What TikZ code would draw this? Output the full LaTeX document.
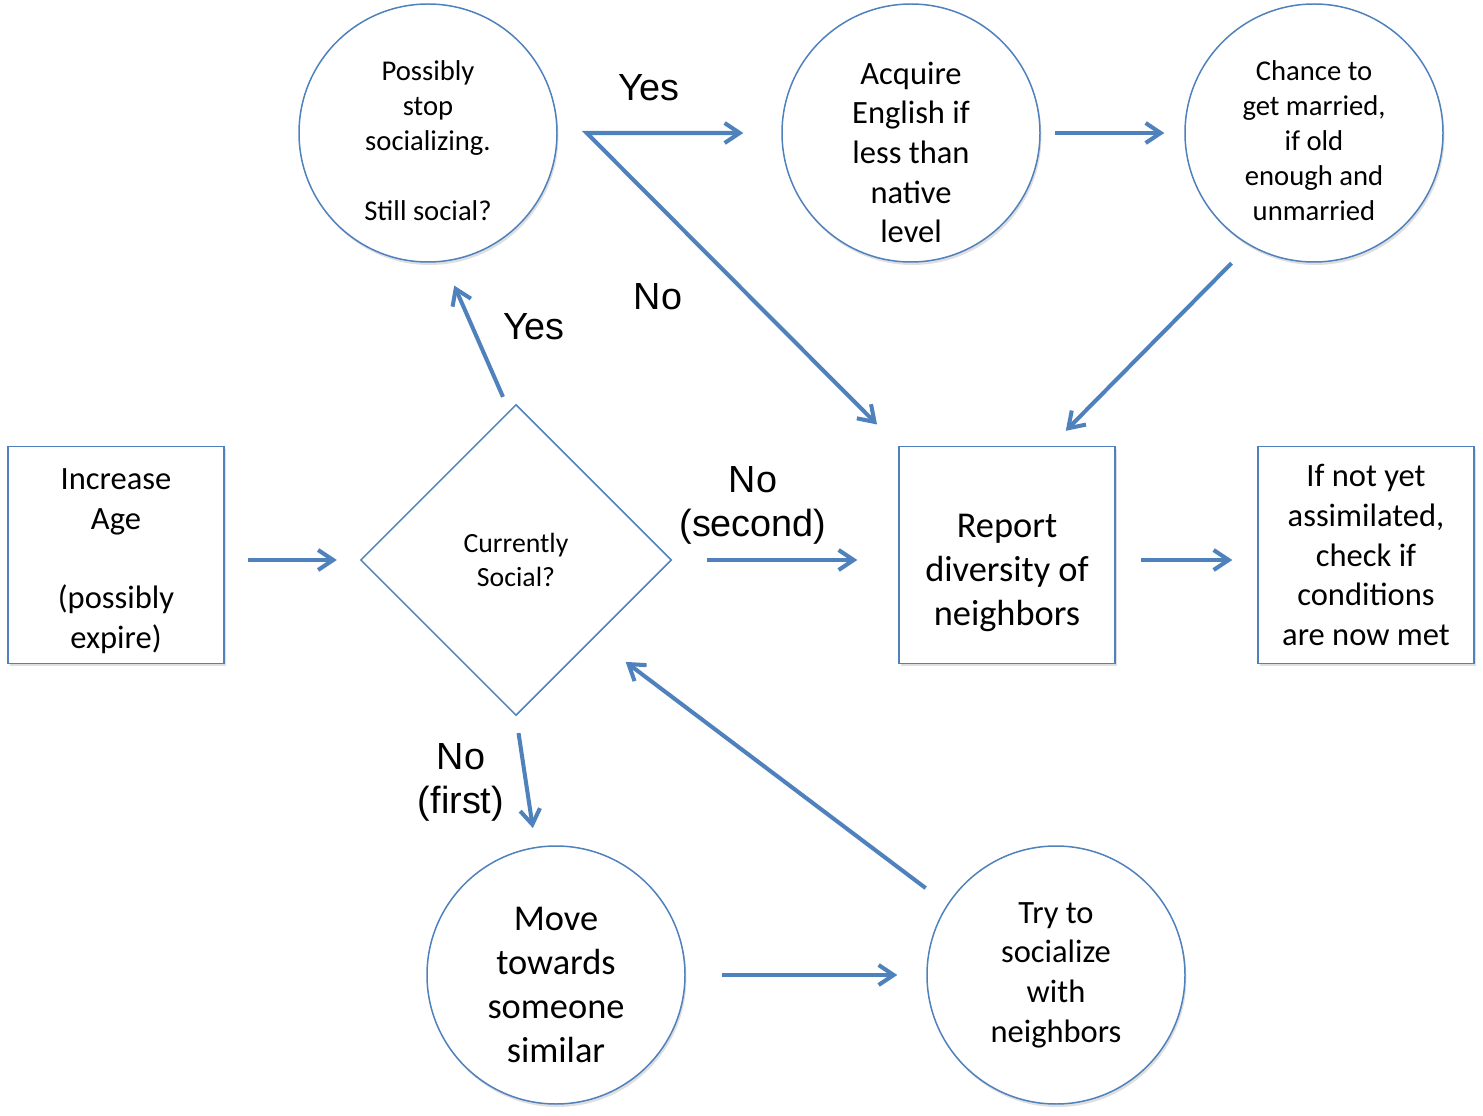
\documentclass[tikz,border=0pt]{standalone}
\usepackage{fontspec}
\setmainfont{Carlito}
\newfontfamily\labelfont{Liberation Sans}
\usetikzlibrary{arrows.meta,shapes.geometric,shadows}
\definecolor{flowblue}{RGB}{79,129,189}

\begin{document}
\begin{tikzpicture}[>={Straight Barb[length=0.3cm,width=0.4cm]},
  every node/.style={align=center},
  blob/.style={shape=circle,draw=flowblue,line width=0.85pt,fill=white,inner sep=0pt,
    minimum size=5.16cm,drop shadow={opacity=0.25,shadow xshift=0.03cm,shadow yshift=-0.06cm}},
  box/.style={shape=rectangle,draw=flowblue,line width=0.85pt,fill=white,inner sep=0pt,
    minimum width=4.32cm,minimum height=4.34cm,drop shadow={opacity=0.25,shadow xshift=0.03cm,shadow yshift=-0.06cm}},
  flow/.style={->,draw=flowblue,line width=2.3pt},
  answer/.style={font=\labelfont\fontsize{21.5}{25}\selectfont}]

  \useasboundingbox (0,0) rectangle (29.66,-22.32);

  \node (stop) at (8.56,-2.66) [blob,text height=100pt,font=\fontsize{16.3}{20}\selectfont]
        {Possibly\\stop\\socializing.\\[20pt]Still social?};
  \node (acq) at (18.22,-2.66) [blob,text height=124.8pt,font=\fontsize{18.5}{22.5}\selectfont]
        {Acquire\\English if\\less than\\native\\level};
  \node (marry) at (26.28,-2.66) [blob,text height=100pt,font=\fontsize{16.3}{20}\selectfont]
        {Chance to\\get married,\\if old\\enough and\\unmarried};

  \node (age) at (2.32,-11.1) [box,text height=109pt,font=\fontsize{18.5}{22.6}\selectfont]
        {Increase\\Age\\[22.6pt](possibly\\expire)};
  \node (soc) at (10.32,-11.2) [shape=diamond,draw=flowblue,line width=0.85pt,fill=white,inner sep=0pt,
        minimum width=6.22cm,minimum height=6.22cm,font=\fontsize{15.8}{19.3}\selectfont]
        {Currently\\Social?};
  \node (report) at (20.14,-11.1) [box,text height=84.3pt,font=\fontsize{20.7}{25.3}\selectfont]
        {Report\\diversity of\\neighbors};
  \node (assim) at (27.32,-11.1) [box,font=\fontsize{18.5}{22.6}\selectfont]
        {If not yet\\assimilated,\\check if\\conditions\\are now met};

  \node (move) at (11.12,-19.5) [blob,text height=100.3pt,font=\fontsize{20.7}{25.2}\selectfont]
        {Move\\towards\\someone\\similar};
  \node (try) at (21.12,-19.5) [blob,font=\fontsize{18.5}{22.6}\selectfont]
        {Try to\\socialize\\with\\neighbors};

  \coordinate (fork) at ([xshift=0.58cm]stop.east);

  \draw [flow,shorten <=0.46cm,shorten >=0.46cm] (age.east |- soc.west) -- (soc.west);
  \draw [flow,shorten <=0.7cm,shorten >=0.82cm] (soc.east) -- (report.west |- soc.east);
  \draw [flow,shorten <=0.5cm,shorten >=0.5cm] (report.east |- soc.east) -- (assim.west |- soc.east);
  \draw [flow,shorten <=0.15cm,shorten >=0.52cm] ([xshift=-0.2cm]soc.north) -- (stop.-83);
  \draw [flow,<->,shorten <=0.76cm,shorten >=0.6cm] (acq.west) -- (fork) -- (report.north west);
  \draw [flow,shorten <=0.28cm,shorten >=0.4cm] (acq.east) -- (marry.west);
  \draw [flow,shorten <=0.5cm,shorten >=0.42cm] (marry.-120) -- ([xshift=0.88cm]report.north);
  \draw [flow,shorten <=0.34cm,shorten >=0.38cm] (soc.south) -- (move.99);
  \draw [flow,shorten <=0.72cm,shorten >=0.58cm] (move.east) -- (try.west);
  \draw [flow,shorten <=0.54cm,shorten >=0.79cm] (try.147) -- (soc.south east);

  \node (yesA) at (12.98,-1.76) [answer] {Yes};
  \node (noA) at (13.16,-5.94) [answer] {No};
  \node (yesB) at (10.68,-6.54) [answer] {Yes};
  \node (noB) at (15.06,-10.1) [answer] {No\\(second)};
  \node (noC) at (9.22,-15.64) [answer] {No\\(first)};
\end{tikzpicture}
\end{document}
